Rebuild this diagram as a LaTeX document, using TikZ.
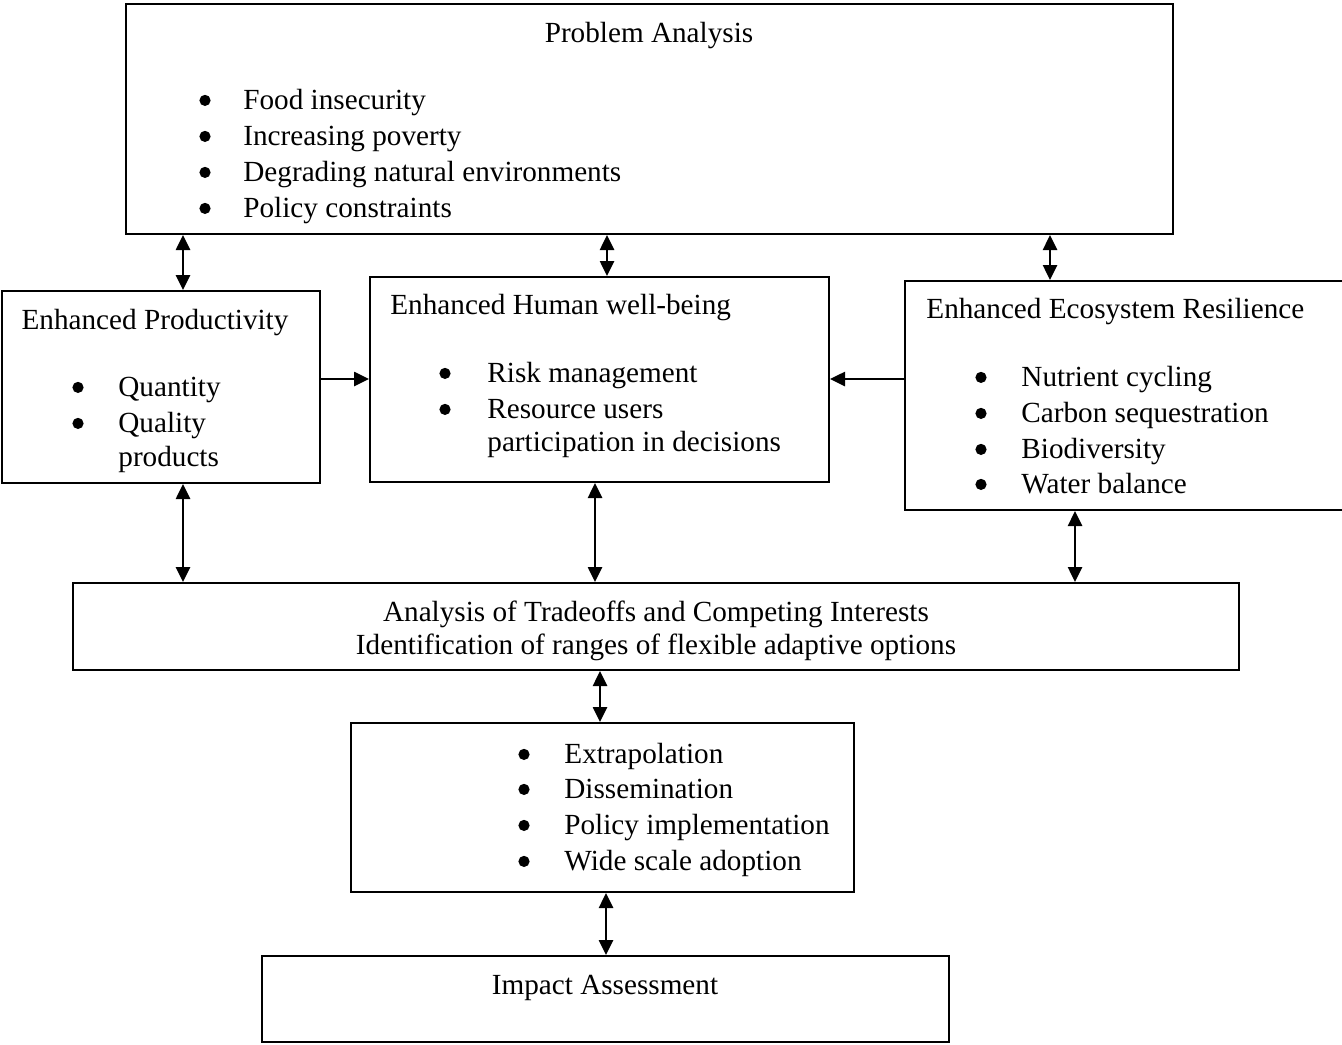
\documentclass[tikz,border=0pt]{standalone}
\usepackage{fontspec}
\setmainfont{Liberation Serif}
\usetikzlibrary{arrows.meta}
\begin{document}
\begin{tikzpicture}[x=0.5pt,y=-0.5pt,
  box/.style={draw,line width=1pt,inner sep=0pt,minimum width=#1},
  txt/.style={inner sep=0pt,anchor=base west,font=\fontsize{14.6}{18}\selectfont},
  ctxt/.style={inner sep=0pt,anchor=base,font=\fontsize{14.6}{18}\selectfont},
  bul/.style={circle,fill,inner sep=0pt,minimum size=5.6pt,yshift=4.3pt},
  dbl/.style={line width=1.3pt,{Triangle[length=7.5pt,width=7pt]}-{Triangle[length=7.5pt,width=7pt]}},
  sgl/.style={line width=1.3pt,-{Triangle[length=7.5pt,width=7pt]}}]
\useasboundingbox (0,0) rectangle (1342,1044);
% boxes
\node[box=523.5pt,minimum height=115pt] (PA) at (649.5,119) {};
\node[box=159pt,minimum height=96pt] (EP) at (161,387) {};
\node[box=229.5pt,minimum height=102.5pt] (EH) at (599.5,379.5) {};
\node[box=222.5pt,minimum height=114.5pt] (EE) at (1127.5,395.5) {};
\node[box=583pt,minimum height=43.5pt] (AT) at (656,626.5) {};
\node[box=251.5pt,minimum height=84.5pt] (EX) at (602.5,807.5) {};
\node[box=343.5pt,minimum height=43pt] (IA) at (605.5,999) {};
% Problem analysis text
\node[ctxt] (pat) at (649,42) {Problem Analysis};
\node[bul] (pab1) at (205,109) {};
\node[txt] (pa1) at (243,109) {Food insecurity};
\node[bul] (pab2) at (205,145) {};
\node[txt] (pa2) at (243,145) {Increasing poverty};
\node[bul] (pab3) at (205,181) {};
\node[txt] (pa3) at (243,181) {Degrading natural environments};
\node[bul] (pab4) at (205,217) {};
\node[txt] (pa4) at (243,217) {Policy constraints};
% Enhanced productivity
\node[ctxt] (ept) at (155,329) {Enhanced Productivity};
\node[bul] (epb1) at (78,396) {};
\node[txt] (ep1) at (118,396) {Quantity};
\node[bul] (epb2) at (78,432) {};
\node[txt] (ep2) at (118,432) {Quality};
\node[txt] (ep3) at (118,466) {products};
% Enhanced human well-being
\node[txt] (eht) at (390,314) {Enhanced Human well-being};
\node[bul] (ehb1) at (445,382) {};
\node[txt] (eh1) at (487,382) {Risk management};
\node[bul] (ehb2) at (445,418) {};
\node[txt] (eh2) at (487,418) {Resource users};
\node[txt] (eh3) at (487,451) {participation in decisions};
% Enhanced ecosystem resilience
\node[txt] (eet) at (926,318) {Enhanced Ecosystem Resilience};
\node[bul] (eeb1) at (981,386) {};
\node[txt] (ee1) at (1021,386) {Nutrient cycling};
\node[bul] (eeb2) at (981,422) {};
\node[txt] (ee2) at (1021,422) {Carbon sequestration};
\node[bul] (eeb3) at (981,458) {};
\node[txt] (ee3) at (1021,458) {Biodiversity};
\node[bul] (eeb4) at (981,493) {};
\node[txt] (ee4) at (1021,493) {Water balance};
% Analysis of tradeoffs
\node[ctxt] (at1) at (656,621) {Analysis of Tradeoffs and Competing Interests};
\node[ctxt] (at2) at (656,654) {Identification of ranges of flexible adaptive options};
% Extrapolation
\node[bul] (exb1) at (524,763) {};
\node[txt] (ex1) at (564,763) {Extrapolation};
\node[bul] (exb2) at (524,798) {};
\node[txt] (ex2) at (564,798) {Dissemination};
\node[bul] (exb3) at (524,834) {};
\node[txt] (ex3) at (564,834) {Policy implementation};
\node[bul] (exb4) at (524,870) {};
\node[txt] (ex4) at (564,870) {Wide scale adoption};
% Impact
\node[ctxt] (iat) at (605,994) {Impact Assessment};
% connectors
\draw[dbl] (PA.south -| 183,0) -- (EP.north -| 183,0);
\draw[dbl] (PA.south -| 607,0) -- (EH.north -| 607,0);
\draw[dbl] (PA.south -| 1050,0) -- (EE.north -| 1050,0);
\draw[sgl] (EP.east |- 0,379) -- (EH.west |- 0,379);
\draw[sgl] (EE.west |- 0,379) -- (EH.east |- 0,379);
\draw[dbl] (EP.south -| 183,0) -- (AT.north -| 183,0);
\draw[dbl] (EH.south -| 595,0) -- (AT.north -| 595,0);
\draw[dbl] (EE.south -| 1075,0) -- (AT.north -| 1075,0);
\draw[dbl] (AT.south -| 600,0) -- (EX.north -| 600,0);
\draw[dbl] (EX.south -| 606,0) -- (IA.north -| 606,0);
\end{tikzpicture}
\end{document}
